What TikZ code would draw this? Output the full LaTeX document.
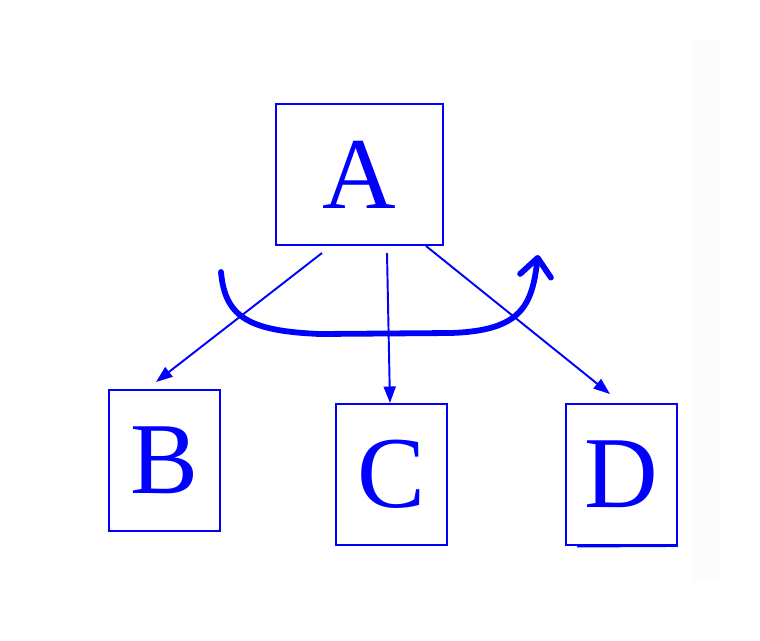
\documentclass[tikz,border=0pt]{standalone}
\usepackage{fontspec}
\setmainfont{Liberation Serif}
\usetikzlibrary{arrows.meta}
\definecolor{pureblue}{RGB}{0,0,255}
\definecolor{faintgray}{RGB}{252,252,252}
\begin{document}
\begin{tikzpicture}[x=0.02cm,y=-0.02cm,
  letterbox/.style={draw=pureblue, line width=1.1pt, text=pureblue,
    inner sep=0pt, minimum height=2.82cm,
    font=\fontsize{58}{58}\selectfont},
  thinarrow/.style={draw=pureblue, line width=1.1pt,
    -{Triangle[length=0.33cm,width=0.24cm]}},
  bigarrow/.style={draw=pureblue, line width=3.3pt, line cap=round, line join=round,
    -{Straight Barb[length=0.36cm,width=0.62cm,round]}}]
  % canvas
  \useasboundingbox (0,0) rectangle (760,640);
  \fill[faintgray] (693,40) rectangle (720,580);

  % boxes
  \node[letterbox, minimum width=3.34cm] (A) at (359.5,174.5) {A};
  \node[letterbox, minimum width=2.22cm] (B) at (164.5,460.5) {B};
  \node[letterbox, minimum width=2.22cm] (C) at (391.5,474.5) {C};
  \node[letterbox, minimum width=2.22cm] (D) at (621.5,474.5) {D};
  % small offset edge under D
  \draw[pureblue, line width=1.1pt] (577,546.5) -- (D.south east);

  % connector end points
  \coordinate (ab0) at (322,253);
  \coordinate (ab1) at (156,382);
  \coordinate (ac0) at (387,253);
  \coordinate (ac1) at (390,403);
  \coordinate (ad0) at (426,246);
  \coordinate (ad1) at (610,394);

  \draw[thinarrow] (ab0) -- (ab1);
  \draw[thinarrow] (ac0) -- (ac1);
  \draw[thinarrow] (ad0) -- (ad1);

  % sweeping arrow beneath A
  \coordinate (s0) at (221,272);
  \coordinate (s1) at (320,334);
  \coordinate (s2) at (450,333);
  \coordinate (s3) at (538,255);
  \draw[bigarrow] (s0) .. controls (225,318) and (250,331) .. (s1)
    -- (s2) .. controls (522,331) and (532,305) .. (s3);
\end{tikzpicture}
\end{document}
